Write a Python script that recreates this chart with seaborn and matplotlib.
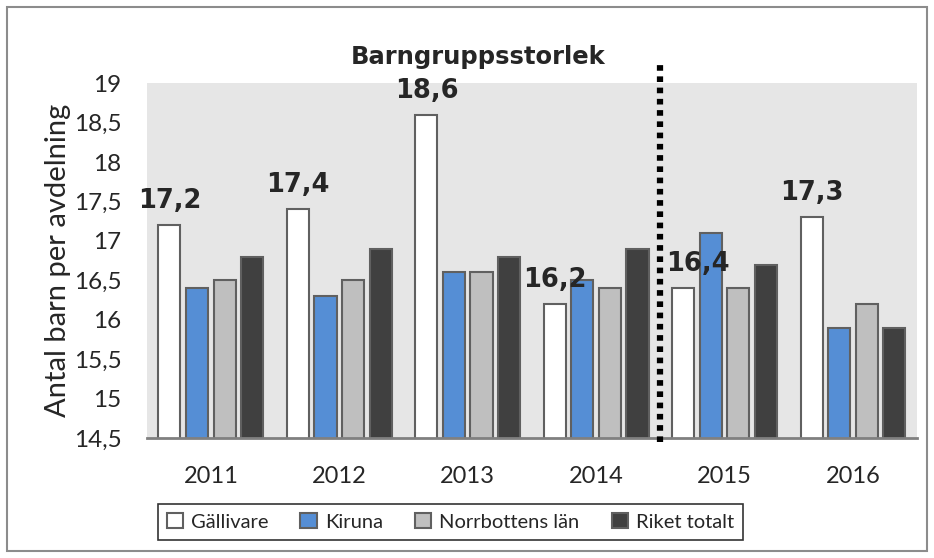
import pandas as pd
import seaborn as sns
import matplotlib.pyplot as plt
from matplotlib.patches import Rectangle
from matplotlib.ticker import FuncFormatter

years = ["2011", "2012", "2013", "2014", "2015", "2016"]
gallivare = [17.2, 17.4, 18.6, 16.2, 16.4, 17.3]
kiruna = [16.4, 16.3, 16.6, 16.5, 17.1, 15.9]
norrbotten = [16.5, 16.5, 16.6, 16.4, 16.4, 16.2]
riket = [16.8, 16.9, 16.8, 16.9, 16.7, 15.9]
series = ["Gällivare", "Kiruna", "Norrbottens län", "Riket totalt"]
colors = ["#FFFFFF", "#558ED5", "#BFBFBF", "#404040"]

rows = []
for name, vals in zip(series, [gallivare, kiruna, norrbotten, riket]):
    for y, v in zip(years, vals):
        rows.append({"year": y, "serie": name, "value": v})
df = pd.DataFrame(rows)

sns.set_style("white")
plt.rcParams["font.family"] = ["Lato", "DejaVu Sans"]

fig = plt.figure(figsize=(9.34, 5.58), dpi=100)
ax = fig.add_axes([0.157, 0.215, 0.825, 0.636])

sns.barplot(data=df, x="year", y="value", hue="serie", hue_order=series,
            palette=colors, saturation=1, width=0.86, gap=0.2,
            edgecolor="#606060", linewidth=1.5, ax=ax, legend=True)

ax.set_facecolor("#E6E6E6")
ax.set_xlim(-0.5, 5.5)
ax.set_ylim(14.5, 19)
ax.set_yticks([14.5 + 0.5 * i for i in range(10)])
ax.yaxis.set_major_formatter(FuncFormatter(lambda v, p: f"{v:g}".replace(".", ",")))
ax.tick_params(axis="y", length=0, pad=18, labelsize=17.5)
ax.tick_params(axis="x", length=0, pad=20, labelsize=17)
ax.set_xlabel("")
ax.set_ylabel("Antal barn per avdelning", fontsize=21, labelpad=2)
for s in ["top", "right", "left"]:
    ax.spines[s].set_visible(False)
ax.spines["bottom"].set_color("#808080")
ax.spines["bottom"].set_linewidth(2)

# value labels on Gällivare bars
for i, v in enumerate(gallivare):
    xo = 0.11 if years[i] == "2015" else 0
    ax.annotate(f"{v:.1f}".replace(".", ","), (i - 0.32 + xo, v),
                xytext=(0, 8), textcoords="offset points", ha="center",
                va="bottom", fontsize=18.5, fontweight="bold",
                family="DejaVu Sans")

# dotted separator between 2014 and 2015
ax.plot([3.5, 3.5], [14.45, 19.26], color="black", lw=4.5,
        linestyle=(0, (0.9, 0.9)), clip_on=False, zorder=5)

ax.set_title("Barngruppsstorlek", fontsize=17.5, fontweight="bold",
             family="DejaVu Sans", pad=14, x=0.43)

handles, labels = ax.get_legend_handles_labels()
ax.get_legend().remove()
leg = fig.legend(handles, labels, loc="center", bbox_to_anchor=(0.482, 0.065),
                 ncol=4, frameon=True, fancybox=False, fontsize=14.5,
                 handlelength=0.8, handleheight=0.8, handletextpad=0.4,
                 columnspacing=1.6, borderpad=0.45)
leg.get_frame().set_edgecolor("black")
leg.get_frame().set_linewidth(1.2)

fig.patches.append(Rectangle((0.007, 0.013), 0.985, 0.975, transform=fig.transFigure,
                             fill=False, edgecolor="#8C8C8C", linewidth=1.5))

fig.savefig("out.png", dpi=100)
